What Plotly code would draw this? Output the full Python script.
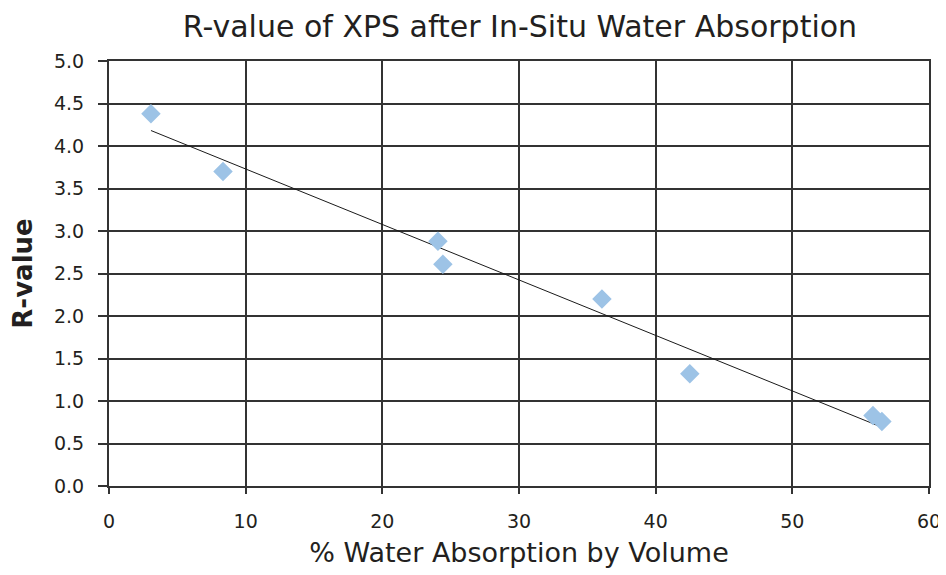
import numpy as np
import plotly.graph_objects as go

water_absorption = [3.07, 8.34, 24.07, 24.43, 36.07, 42.5, 55.9, 56.55]
r_value = [4.38, 3.70, 2.88, 2.61, 2.20, 1.32, 0.83, 0.76]

slope, intercept = np.polyfit(water_absorption, r_value, 1)
trend_x = [min(water_absorption), max(water_absorption)]
trend_y = [slope * x + intercept for x in trend_x]

fig = go.Figure()
fig.add_trace(go.Scatter(
    x=trend_x, y=trend_y, mode="lines",
    line=dict(color="#1a1a1a", width=1), showlegend=False, hoverinfo="skip"))
fig.add_trace(go.Scatter(
    x=water_absorption, y=r_value, mode="markers",
    marker=dict(symbol="diamond", size=15, color="#9DC3E6"),
    showlegend=False))

font_family = "DejaVu Sans, sans-serif"
fig.update_layout(
    width=938, height=567,
    margin=dict(l=101, r=17, t=53, b=89, autoexpand=False),
    paper_bgcolor="white", plot_bgcolor="white",
    title=dict(text="R-value of XPS after In-Situ Water Absorption",
               x=0.5458, xanchor="center", y=0.968, yanchor="middle",
               font=dict(family=font_family, size=30, color="#231f20")),
    font=dict(family=font_family, color="#231f20"),
)
fig.update_xaxes(
    range=[0, 60], dtick=10, tick0=0, automargin=False,
    showgrid=True, gridcolor="#333333", gridwidth=2,
    showline=True, linecolor="#333333", linewidth=2, mirror=True,
    ticks="outside", ticklen=6, tickwidth=2, tickcolor="#333333",
    tickfont=dict(size=19, color="#231f20"), ticklabelstandoff=11,
    zeroline=False,
    title=dict(text="% Water Absorption by Volume",
               font=dict(size=27, color="#231f20"), standoff=12),
)
fig.update_yaxes(
    range=[0, 5], dtick=0.5, tick0=0, tickformat=".1f", automargin=False,
    showgrid=True, gridcolor="#333333", gridwidth=2,
    showline=True, linecolor="#333333", linewidth=2, mirror=True,
    ticks="outside", ticklen=9, tickwidth=2, tickcolor="#333333",
    tickfont=dict(size=19, color="#231f20"), ticklabelstandoff=10,
    zeroline=False,
    title=dict(text="R-value",
               font=dict(size=26, color="#231f20", weight="bold"), standoff=14),
)

fig.write_html("out.html")
